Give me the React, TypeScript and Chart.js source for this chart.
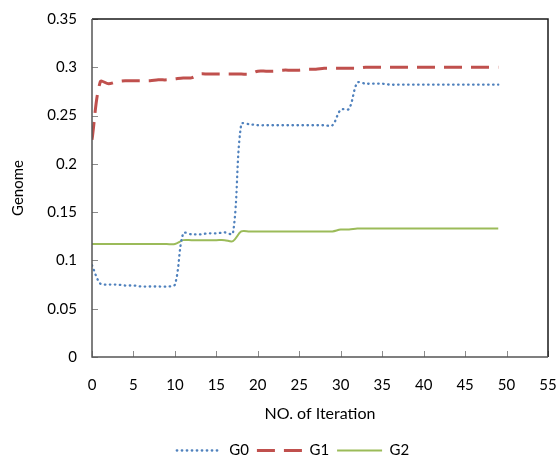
import React, { useEffect, useRef } from "react";
import { Chart, registerables } from "chart.js";

Chart.register(...registerables);

const iterations = [
  0, 1, 2, 3, 4, 5, 6, 7, 8, 9, 10, 11, 12, 13, 14, 15, 16, 17, 18, 19, 20, 21, 22, 23, 24,
  25, 26, 27, 28, 29, 30, 31, 32, 33, 34, 35, 36, 37, 38, 39, 40, 41, 42, 43, 44, 45, 46, 47, 48, 49,
];

const g0 = [
  0.095, 0.076, 0.075, 0.075, 0.074, 0.074, 0.073, 0.073, 0.073, 0.073,
  0.075, 0.128, 0.127, 0.127, 0.128, 0.128, 0.129, 0.128, 0.241, 0.241,
  0.240, 0.240, 0.240, 0.240, 0.240, 0.240, 0.240, 0.240, 0.240, 0.240,
  0.256, 0.257, 0.284, 0.283, 0.283, 0.283, 0.282, 0.282, 0.282, 0.282,
  0.282, 0.282, 0.282, 0.282, 0.282, 0.282, 0.282, 0.282, 0.282, 0.282,
];

const g1 = [
  0.225, 0.285, 0.283, 0.285, 0.286, 0.286, 0.286, 0.286, 0.287, 0.287,
  0.288, 0.289, 0.289, 0.293, 0.293, 0.293, 0.293, 0.293, 0.293, 0.293,
  0.296, 0.296, 0.296, 0.297, 0.297, 0.297, 0.298, 0.298, 0.299, 0.299,
  0.299, 0.299, 0.299, 0.300, 0.300, 0.300, 0.300, 0.300, 0.300, 0.300,
  0.300, 0.300, 0.300, 0.300, 0.300, 0.300, 0.300, 0.300, 0.300, 0.300,
];

const g2 = [
  0.117, 0.117, 0.117, 0.117, 0.117, 0.117, 0.117, 0.117, 0.117, 0.117,
  0.117, 0.121, 0.121, 0.121, 0.121, 0.121, 0.121, 0.120, 0.130, 0.130,
  0.130, 0.130, 0.130, 0.130, 0.130, 0.130, 0.130, 0.130, 0.130, 0.130,
  0.132, 0.132, 0.133, 0.133, 0.133, 0.133, 0.133, 0.133, 0.133, 0.133,
  0.133, 0.133, 0.133, 0.133, 0.133, 0.133, 0.133, 0.133, 0.133, 0.133,
];

const seriesNames = ["G0", "G1", "G2"];
const xTitle = "NO. of Iteration";
const yTitle = "Genome";

const FONT = "Lato, 'Open Sans', sans-serif";

const framePlugin = {
  id: "frameTicks",
  afterDatasetsDraw(chart: any) {
    const { ctx, chartArea } = chart;
    const { left, right, top, bottom } = chartArea;
    const xs = chart.scales.x;
    const ys = chart.scales.y;
    ctx.save();
    ctx.lineWidth = 1;
    ctx.strokeStyle = "#8c8c8c";
    xs.ticks.forEach((_t: any, i: number) => {
      const px = Math.round(xs.getPixelForTick(i)) + 0.5;
      ctx.beginPath();
      ctx.moveTo(px, bottom);
      ctx.lineTo(px, bottom - 6);
      ctx.stroke();
    });
    ys.ticks.forEach((_t: any, i: number) => {
      const py = Math.round(ys.getPixelForTick(i)) + 0.5;
      ctx.beginPath();
      ctx.moveTo(left, py);
      ctx.lineTo(left + 6, py);
      ctx.stroke();
    });
    ctx.lineWidth = 1.5;
    ctx.strokeStyle = "#1a1a1a";
    ctx.beginPath();
    ctx.moveTo(left, top);
    ctx.lineTo(right, top);
    ctx.lineTo(right, bottom);
    ctx.stroke();
    ctx.strokeStyle = "#555555";
    ctx.beginPath();
    ctx.moveTo(left, top);
    ctx.lineTo(left, bottom);
    ctx.lineTo(right, bottom);
    ctx.stroke();
    ctx.restore();
  },
};

const legendShift = {
  id: "legendShift",
  afterLayout(chart: any) {
    const lg = chart.legend;
    if (!lg) return;
    const dx = 19;
    const dy = 9;
    lg.left += dx;
    lg.right += dx;
    lg.top += dy;
    lg.bottom += dy;
  },
};

export default function App() {
  const ref = useRef<HTMLCanvasElement | null>(null);

  useEffect(() => {
    if (!ref.current) return;
    const mk = (vals: number[]) => iterations.map((x, i) => ({ x, y: vals[i] }));
    const chart = new Chart(ref.current, {
      type: "line",
      data: {
        datasets: [
          {
            label: seriesNames[0],
            data: mk(g0),
            borderColor: "#4F81BD",
            backgroundColor: "#4F81BD",
            borderWidth: 2.3,
            borderDash: [0.5, 4.5],
            borderCapStyle: "round",
            pointRadius: 0,
            tension: 0.33,
          },
          {
            label: seriesNames[1],
            data: mk(g1),
            borderColor: "#C0504D",
            backgroundColor: "#C0504D",
            borderWidth: 3,
            borderDash: [18, 9],
            borderCapStyle: "butt",
            pointRadius: 0,
            tension: 0.33,
          },
          {
            label: seriesNames[2],
            data: mk(g2),
            borderColor: "#9BBB59",
            backgroundColor: "#9BBB59",
            borderWidth: 2,
            borderCapStyle: "butt",
            pointRadius: 0,
            tension: 0.33,
          },
        ],
      },
      options: {
        animation: false,
        responsive: true,
        maintainAspectRatio: false,
        layout: { padding: { top: 19, right: 10, left: 0, bottom: 0 } },
        plugins: {
          tooltip: { enabled: false },
          legend: {
            position: "bottom",
            labels: {
              usePointStyle: true,
              pointStyle: "line",
              pointStyleWidth: 45,
              padding: 8,
              color: "#000",
              font: { family: FONT, size: 15 },
              generateLabels: (c: any) =>
                c.data.datasets.map((ds: any, i: number) => ({
                  text: ds.label,
                  fillStyle: ds.borderColor,
                  strokeStyle: ds.borderColor,
                  lineWidth: ds.borderWidth,
                  lineDash: ds.borderDash || [],
                  lineCap: ds.borderCapStyle || "butt",
                  pointStyle: "line",
                  fontColor: "#000",
                  hidden: false,
                  datasetIndex: i,
                })),
            },
          },
        },
        scales: {
          x: {
            type: "linear",
            min: 0,
            max: 55,
            grid: { display: false, drawTicks: false },
            border: { display: false },
            ticks: {
              stepSize: 5,
              color: "#000",
              padding: 19,
              maxRotation: 0,
              autoSkip: false,
              font: { family: FONT, size: 15 },
            },
            title: {
              display: true,
              text: xTitle,
              color: "#000",
              font: { family: FONT, size: 16 },
              padding: { top: 0, bottom: 3 },
            },
            afterFit(s: any) {
              s.height = 69;
              s.paddingLeft = 0;
              s.paddingRight = 0;
            },
          },
          y: {
            min: 0,
            max: 0.35,
            grid: { display: false, drawTicks: false },
            border: { display: false },
            ticks: {
              stepSize: 0.05,
              color: "#000",
              padding: 15,
              font: { family: FONT, size: 15 },
              callback: (v: any) => String(Number(Number(v).toFixed(2))),
            },
            title: {
              display: true,
              text: yTitle,
              color: "#000",
              font: { family: FONT, size: 15 },
              padding: { top: 9, bottom: 0 },
            },
            afterFit(s: any) {
              s.width = 92;
              s.paddingTop = 0;
              s.paddingBottom = 0;
            },
          },
        },
      },
      plugins: [framePlugin, legendShift],
    });
    return () => chart.destroy();
  }, []);

  return (
    <div style={{ position: "fixed", left: 0, top: 0, width: 558, height: 459, background: "#fff" }}>
      <canvas ref={ref} />
    </div>
  );
}
